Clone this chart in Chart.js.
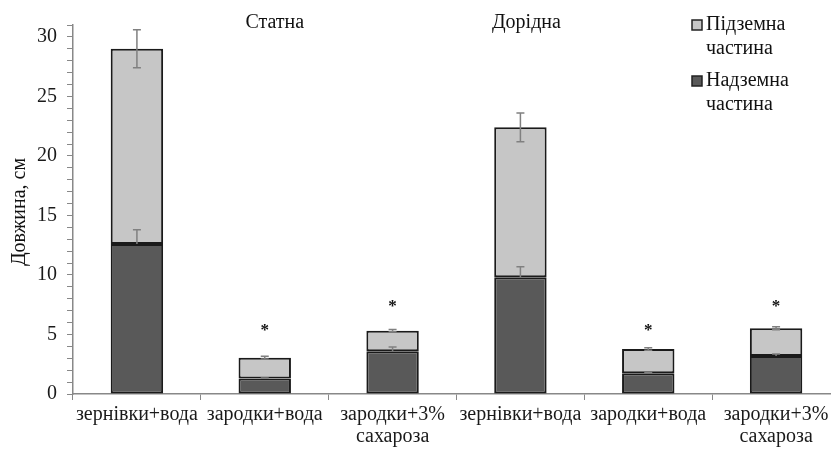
<!DOCTYPE html>
<html>
<head>
<meta charset="utf-8">
<script src="https://cdn.jsdelivr.net/npm/chart.js@4.4.0/dist/chart.umd.min.js"></script>
<style>
  html, body { margin: 0; padding: 0; background: #fff; overflow: hidden; }
  #wrap { width: 831px; height: 450px; overflow: hidden; }
  #wrap div { width: 840px; height: 450px; }
</style>
</head>
<body>
<div id="wrap"><div><canvas id="chart"></canvas></div></div>
<script>
// categories (two varieties, three treatments each)
const labels = [
    'зернівки+вода', 'зародки+вода', ['зародки+3%', 'сахароза'],
    'зернівки+вода', 'зародки+вода', ['зародки+3%', 'сахароза']
];
const groups = ['Статна', 'Дорідна'];

// series values, cm
const aboveGround = [12.6, 1.3, 3.6, 9.8, 1.75, 3.2];   // Надземна частина
const underGround = [16.4, 1.75, 1.72, 12.6, 2.03, 2.32]; // Підземна частина
const aboveErr = [1.2, 0.05, 0.35, 0.9, 0.05, 0.15];
const underErr = [1.6, 0.12, 0.1, 1.2, 0.1, 0.12];

// significance marks (value where the * sits, null = none)
const stars = [null, 5.7, 7.7, null, 5.7, 7.7];

const yTicks = [0, 5, 10, 15, 20, 25, 30];

const serif = "'Liberation Serif', 'DejaVu Serif', serif";
const darkFill = '#595959';
const lightFill = '#c6c6c6';

const errorBars = {
    id: 'errorBars',
    afterDatasetsDraw(chart) {
        const { ctx, scales: { y } } = chart;
        ctx.save();
        ctx.strokeStyle = '#808080';
        ctx.lineWidth = 1.5;
        chart.data.datasets.forEach((ds, di) => {
            const meta = chart.getDatasetMeta(di);
            meta.data.forEach((bar, i) => {
                const top = y.getValueForPixel(bar.y);
                const hi = y.getPixelForValue(top + ds.errors[i]);
                const lo = ds.plusOnly ? bar.y : y.getPixelForValue(top - ds.errors[i]);
                ctx.beginPath();
                ctx.moveTo(bar.x, hi); ctx.lineTo(bar.x, lo);
                ctx.moveTo(bar.x - 4, hi); ctx.lineTo(bar.x + 4, hi);
                if (!ds.plusOnly) { ctx.moveTo(bar.x - 4, lo); ctx.lineTo(bar.x + 4, lo); }
                ctx.stroke();
            });
        });
        ctx.restore();
    }
};

const annotations = {
    id: 'annotations',
    afterDraw(chart) {
        const { ctx, scales: { x, y } } = chart;
        ctx.save();
        ctx.fillStyle = '#111';
        ctx.font = 'bold 17px ' + serif;
        ctx.textAlign = 'center';
        ctx.textBaseline = 'middle';
        stars.forEach((v, i) => {
            if (v === null) return;
            ctx.fillText('*', x.getPixelForValue(i), y.getPixelForValue(v) + 4);
        });

        // variety titles
        ctx.font = '20px ' + serif;
        ctx.textBaseline = 'alphabetic';
        ctx.fillText(groups[0], x.getPixelForValue(1) + 10, 28);
        ctx.fillText(groups[1], x.getPixelForValue(3) + 6, 28);

        // y axis title
        ctx.save();
        ctx.translate(20, 212);
        ctx.rotate(-Math.PI / 2);
        ctx.textBaseline = 'middle';
        ctx.fillText('Довжина, см', 0, 0);
        ctx.restore();

        // legend (top dataset first)
        ctx.textAlign = 'left';
        ctx.textBaseline = 'middle';
        const items = chart.data.datasets.slice().reverse();
        items.forEach((ds, k) => {
            const cy = 25 + k * 56;
            ctx.fillStyle = ds.backgroundColor;
            ctx.fillRect(692, cy - 5, 10, 10);
            ctx.strokeStyle = '#222';
            ctx.lineWidth = 1.5;
            ctx.strokeRect(692, cy - 5, 10, 10);
            ctx.fillStyle = '#111';
            ds.label.split('\n').forEach((line, j) => {
                ctx.fillText(line, 706, cy + j * 24);
            });
        });
        ctx.restore();
    }
};

new Chart(document.getElementById('chart'), {
    type: 'bar',
    data: {
        labels: labels,
        datasets: [
            {
                label: 'Надземна\nчастина',
                data: aboveGround,
                errors: aboveErr,
                plusOnly: true,
                backgroundColor: darkFill,
                borderColor: '#1a1a1a',
                borderWidth: 2,
                borderSkipped: false
            },
            {
                label: 'Підземна\nчастина',
                data: underGround,
                errors: underErr,
                plusOnly: false,
                backgroundColor: lightFill,
                borderColor: '#1a1a1a',
                borderWidth: 2,
                borderSkipped: false
            }
        ]
    },
    options: {
        responsive: true,
        maintainAspectRatio: false,
        animation: false,
        layout: { padding: { top: 25, left: 0, right: 0, bottom: 0 } },
        datasets: { bar: { barPercentage: 0.41, categoryPercentage: 1 } },
        plugins: { legend: { display: false }, tooltip: { enabled: false } },
        scales: {
            x: {
                stacked: true,
                afterFit: (s) => { s.height = 56; },
                grid: { drawOnChartArea: false, tickLength: 6, color: '#888', offset: true },
                border: { color: '#888', width: 1.5 },
                ticks: {
                    color: '#1a1a1a',
                    font: { family: serif, size: 20, lineHeight: 1.1 },
                    maxRotation: 0, autoSkip: false, padding: 4
                }
            },
            y: {
                stacked: true,
                min: 0,
                max: 31,
                afterFit: (s) => { s.width = 73; },
                grid: { drawOnChartArea: false, tickLength: 6, color: '#888' },
                border: { color: '#888', width: 1.5 },
                ticks: {
                    stepSize: 1,
                    autoSkip: false,
                    color: '#1a1a1a',
                    font: { family: serif, size: 20 },
                    padding: 10,
                    callback: (v) => yTicks.includes(v) ? v : ''
                }
            }
        }
    },
    plugins: [errorBars, annotations]
});
</script>
</body>
</html>
